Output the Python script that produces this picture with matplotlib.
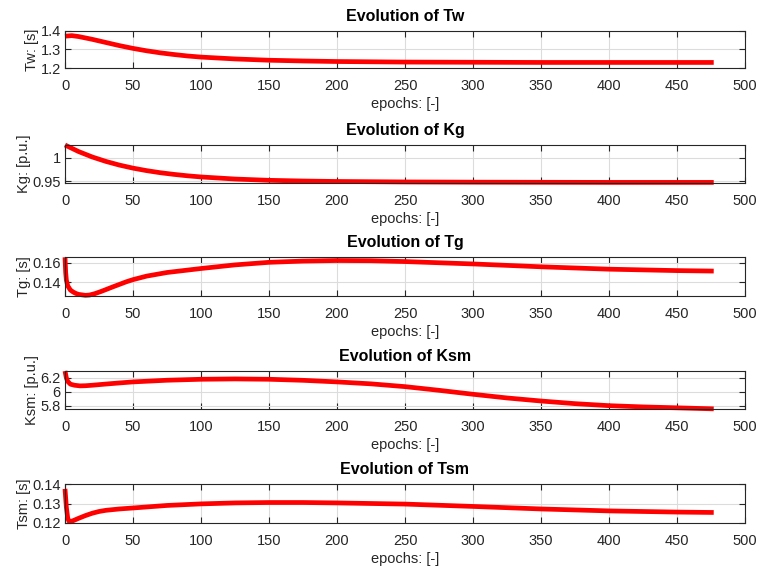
import numpy as np
import matplotlib
matplotlib.use('Agg')
import matplotlib.pyplot as plt

plt.rcParams['font.family'] = ['Liberation Sans', 'DejaVu Sans']

# values (epoch, value)
ep_tw = [0, 5, 10, 20, 30, 40, 50, 60, 70, 80, 90, 100, 125, 150, 175, 200, 250, 300, 350, 400, 477]
tw = [1.372, 1.375, 1.370, 1.355, 1.338, 1.321, 1.306, 1.293, 1.282, 1.273, 1.265, 1.259,
      1.249, 1.242, 1.238, 1.235, 1.232, 1.231, 1.230, 1.230, 1.230]

ep_kg = [0, 10, 20, 30, 40, 50, 60, 70, 80, 90, 100, 125, 150, 175, 200, 250, 300, 400, 477]
kg = [1.028, 1.0138, 1.0021, 0.9925, 0.9845, 0.9779, 0.9725, 0.968, 0.9644, 0.9613, 0.9588,
      0.9543, 0.9515, 0.950, 0.949, 0.948, 0.9475, 0.947, 0.947]

ep_tg = [0, 0.5, 1, 2, 4, 6, 8, 10, 15, 18, 22, 26, 30, 35, 40, 45, 50, 60, 75, 100,
         125, 150, 175, 200, 225, 250, 300, 350, 400, 450, 477]
tg = [0.166, 0.150, 0.142, 0.136, 0.1315, 0.1295, 0.128, 0.127, 0.126, 0.1263, 0.1278, 0.1298,
      0.132, 0.1348, 0.1375, 0.1402, 0.1425, 0.1462, 0.150, 0.1542,
      0.158, 0.1607, 0.162, 0.1626, 0.1624, 0.1615, 0.159, 0.156, 0.1535, 0.152, 0.1515]

ep_ksm = [0, 1, 2, 4, 7, 11, 15, 20, 30, 40, 50, 75, 100, 125, 150, 175, 200, 225, 250, 275, 300,
          325, 350, 375, 400, 425, 450, 477]
ksm = [6.30, 6.20, 6.15, 6.11, 6.095, 6.086, 6.088, 6.095, 6.112, 6.128, 6.143, 6.167, 6.181, 6.186,
       6.181, 6.166, 6.143, 6.115, 6.075, 6.022, 5.965, 5.912, 5.868, 5.830, 5.801, 5.783, 5.770, 5.755]

ep_tsm = [0, 1, 2, 3, 4, 6, 8, 10, 15, 20, 25, 30, 40, 50, 75, 100, 125, 150, 175, 200, 250, 300,
          350, 400, 450, 477]
tsm = [0.1375, 0.128, 0.1225, 0.1208, 0.1207, 0.1212, 0.1218, 0.1224, 0.1238, 0.1250, 0.1259, 0.1265,
       0.1272, 0.1277, 0.129, 0.1298, 0.1303, 0.1305, 0.1305, 0.1303, 0.1297, 0.1285,
       0.1272, 0.1262, 0.1256, 0.1254]

panels = [
    (ep_tw, tw, 'Tw', 'Tw: [s]', (1.2, 1.4), [1.2, 1.3, 1.4], ['1.2', '1.3', '1.4']),
    (ep_kg, kg, 'Kg', 'Kg: [p.u.]', (0.9457, 1.028), [0.95, 1.0], ['0.95', '1']),
    (ep_tg, tg, 'Tg', 'Tg: [s]', (0.1253, 0.1663), [0.14, 0.16], ['0.14', '0.16']),
    (ep_ksm, ksm, 'Ksm', 'Ksm: [p.u.]', (5.753, 6.30), [5.8, 6.0, 6.2], ['5.8', '6', '6.2']),
    (ep_tsm, tsm, 'Tsm', 'Tsm: [s]', (0.12, 0.14), [0.12, 0.13, 0.14], ['0.12', '0.13', '0.14']),
]

boxes = [(31, 68), (145, 183), (257, 296), (371, 409), (484, 523)]

W, H = 760, 571
fig = plt.figure(figsize=(W / 100, H / 100), dpi=100)
dark = '#262626'

for (x, y, name, ylab, ylim, yt, ytl), (top, bot) in zip(panels, boxes):
    ax = fig.add_axes([65 / W, 1 - bot / H, 680 / W, (bot - top) / H])
    ax.plot(x, y, color='#ff0000', lw=3.4, solid_capstyle='butt', clip_on=False)
    ax.set_xlim(0, 500)
    ax.set_ylim(*ylim)
    ax.set_xticks(np.arange(0, 501, 50))
    ax.set_yticks(yt)
    ax.set_yticklabels(ytl)
    ax.grid(True, color='#dcdcdc', lw=0.8)
    ax.set_axisbelow(True)
    ax.tick_params(direction='in', top=True, right=True, length=4, width=0.8,
                   colors=dark, labelsize=10.5)
    ax.tick_params(axis='x', pad=8)
    ax.tick_params(axis='y', pad=3)
    for s in ax.spines.values():
        s.set_color(dark)
        s.set_linewidth(0.8)
    ax.set_title('Evolution of ' + name, fontsize=11.5, fontweight='bold', color='black', pad=7)
    ax.set_xlabel('epochs: [-]', fontsize=10.5, color=dark, labelpad=3)
    ax.set_ylabel(ylab, fontsize=10.5, color=dark, labelpad=1)

fig.savefig('out.png', dpi=100)
